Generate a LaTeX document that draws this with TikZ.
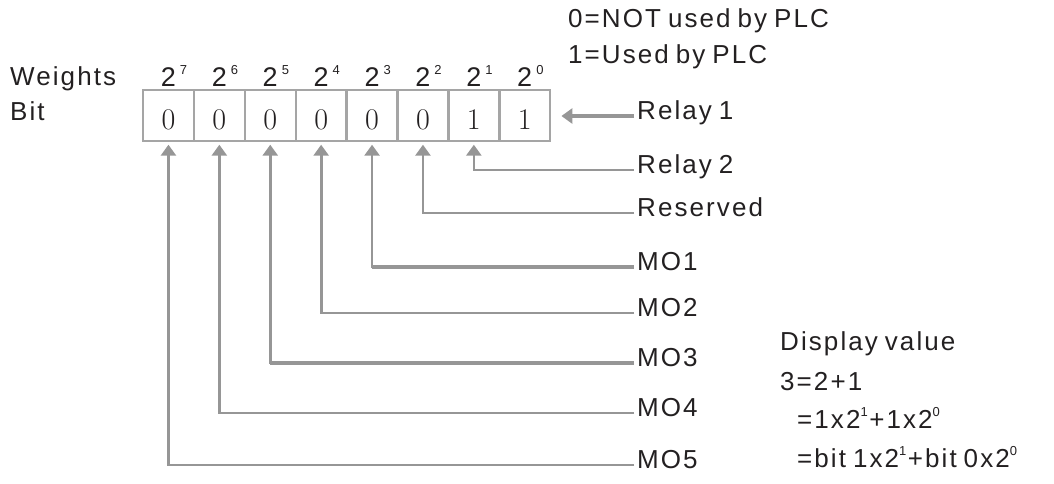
\documentclass[tikz,border=0pt]{standalone}
\usepackage{fontspec}
\usetikzlibrary{arrows.meta, positioning}
\newfontfamily\labelfont{Liberation Sans}[LetterSpace=8, WordSpace=0.75]
\newcommand\pw[1]{\raisebox{12pt}{\fontsize{13}{13}\selectfont #1}\hspace{1.5pt}}
\begin{document}
\begin{tikzpicture}[x=1pt,y=-1pt]
\definecolor{inkgray}{RGB}{35,32,33}
\definecolor{linegray}{RGB}{150,150,150}
\definecolor{boxgray}{RGB}{165,165,165}
\tikzset{
  bitcell/.style={draw=boxgray, line width=2.4pt, minimum width=50.9pt, minimum height=51pt, inner sep=0pt},
  pointer/.style={draw=linegray, line width=2.7pt, -{Triangle[length=11pt,width=15pt]}, shorten >=2.5pt},
  heavy/.style={draw=linegray, line width=4.6pt},
  tag/.style={anchor=west, inner xsep=3pt, inner ysep=0pt, text height=0.72em, text depth=0pt, font=\labelfont\fontsize{26}{26}\selectfont, text=inkgray},
  plain/.style={anchor=base west, inner sep=0pt, font=\labelfont\fontsize{26}{26}\selectfont, text=inkgray},
}
\useasboundingbox (0,0) rectangle (1054,483);

% register cells, bit values and weights
\foreach \i/\b/\w in {0/0/7,1/0/6,2/0/5,3/0/4,4/0/3,5/0/2,6/1/1,7/1/0} {
  \node[bitcell] (c\i) at ({168.45+50.9*\i},115.5) {};
  \node[anchor=base, inner sep=0pt, font=\fontsize{30}{30}\selectfont, text=inkgray] (d\i) at ({168.45+50.9*\i},129) {\b};
  \node[anchor=base, inner sep=0pt, font=\labelfont\fontsize{27}{27}\selectfont, text=inkgray] (w\i) at ({168.45+50.9*\i},86) {2\rlap{\hspace{4pt}\pw{\w}}};
}

\node[plain] (wlabel) at (10,85) {Weights};
\node[plain] (blabel) at (10,120) {Bit};
\node[plain] (legend0) at (568,27) {0=NOT used by PLC};
\node[plain] (legend1) at (568,63) {1=Used by PLC};

% outputs
\node[tag] (relay1) at (634,116) {Relay 1};
\node[tag] (relay2) at (634,170) {Relay 2};
\node[tag] (resv) at (634,213) {Reserved};
\node[tag] (mo1) at (634,267) {MO1};
\node[tag] (mo2) at (634,313) {MO2};
\node[tag] (mo3) at (634,363) {MO3};
\node[tag] (mo4) at (634,413) {MO4};
\node[tag] (mo5) at (634,465) {MO5};

\draw[pointer, line width=3.8pt, shorten >=10pt] (relay1.west) -- (relay1.west -| c7.east);
\foreach \lab/\c in {relay2/6,resv/5,mo1/4,mo2/3,mo3/2,mo4/1,mo5/0}
  \draw[pointer] (\lab.west) -| (c\c.south);
\draw[heavy] (mo1.west) -- (mo1.west -| c4.south);
\draw[heavy] (mo3.west) -- (mo3.west -| c2.south);

% display value
\node[plain] (disp1) at (780,350) {Display value};
\node[plain] (disp2) at (780,390) {3=2+1};
\node[plain] (disp3) at (797,428) {=1x2\pw{1}+1x2\pw{0}};
\node[plain] (disp4) at (797,467) {=bit 1x2\pw{1}+bit 0x2\pw{0}};
\end{tikzpicture}
\end{document}
